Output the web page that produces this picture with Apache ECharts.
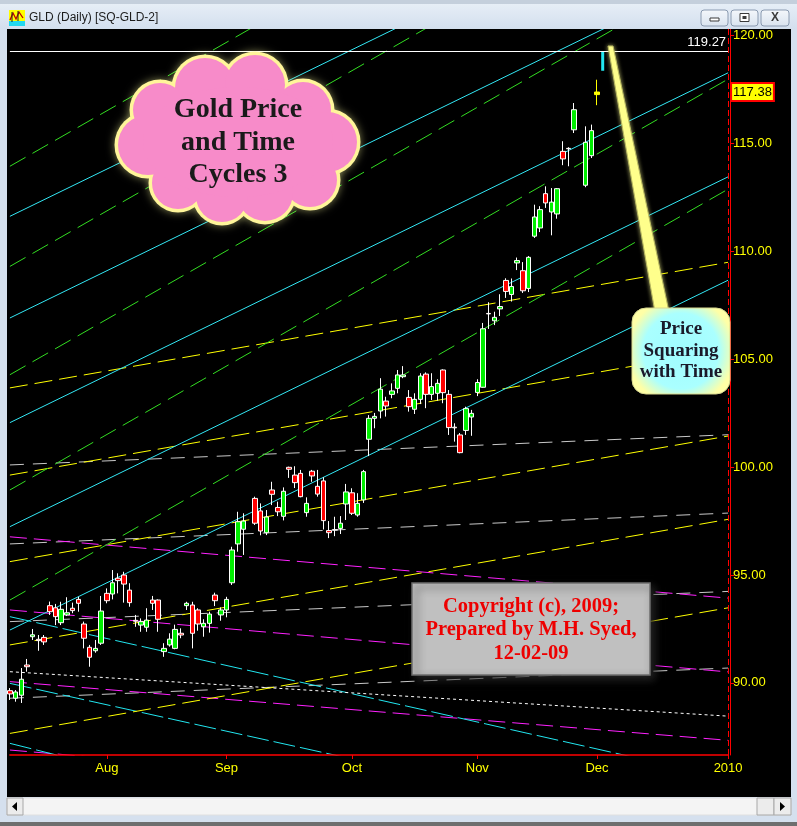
<!DOCTYPE html>
<html><head><meta charset="utf-8">
<script src="https://cdn.jsdelivr.net/npm/echarts@6/dist/echarts.min.js"></script>
<style>html,body{margin:0;padding:0;background:#d5e0ee;overflow:hidden}#chart{width:797px;height:826px}</style>
</head><body><div id="chart"></div>
<script>
// ---- calendar (weekday slots, as in the source chart) ----
const julDays=[9,10,13,14,15,16,17,20,21,22,23,24,27,28,29,30,31];
const augDays=[3,4,5,6,7,10,11,12,13,14,17,18,19,20,21,24,25,26,27,28,31];
const sepDays=[1,2,3,4,7,8,9,10,11,14,15,16,17,18,21,22,23,24,25,28,29,30];
const octDays=[1,2,5,6,7,8,9,12,13,14,15,16,19,20,21,22,23,26,27,28,29,30];
const novDays=[2,3,4,5,6,9,10,11,12,13,16,17,18,19,20,23,24,25,26,27,30];
const decDays=[1,2,3,4,7,8,9,10,11,14,15,16,17,18,21,22,23,24,25,28,29,30,31];
const janDays=[1];
const monthTickLabels=['Aug','Sep','Oct','Nov','Dec','2010'];
const yTickLabels=['90.00','95.00','100.00','105.00','110.00','115.00','120.00'];

// ---- GLD daily OHLC (null = market holiday) ----
const opens=[89.64,89.29,89.43,90.83,92.14,92.02,92.11,93.58,93.48,92.79,
93.15,93.46,93.87,92.73,91.65,91.49,91.84,94.15,94.12,94.85,
95.00,94.30,92.90,92.68,92.58,93.84,93.84,91.45,91.76,91.60,
92.30,93.58,93.61,93.38,92.60,92.76,94.07,93.15,93.38,94.64,
96.44,97.12,null,98.55,97.97,96.96,98.94,98.13,97.72,99.99,
99.63,99.71,97.89,99.81,99.11,99.36,97.06,97.10,97.16,98.29,
98.81,97.78,98.48,101.29,102.26,102.60,103.06,103.37,103.65,104.19,
103.23,102.68,103.14,104.31,103.37,103.42,104.50,103.37,101.85,101.49,
101.70,102.32,103.46,103.70,107.12,106.78,107.33,108.65,108.00,109.46,
109.10,108.28,110.70,111.08,112.67,111.82,111.73,114.63,114.77,115.63,
null,113.06,114.43];
const closes=[89.49,89.58,90.17,90.75,92.23,91.96,91.90,93.30,93.07,93.41,
93.25,93.35,93.69,92.07,91.19,91.60,93.33,93.81,94.64,94.74,
94.58,93.72,92.86,92.84,92.91,93.69,92.95,91.60,92.03,92.48,
92.22,93.69,92.30,92.73,92.76,93.19,93.81,93.38,93.87,96.16,
97.47,97.50,null,97.40,97.04,97.69,98.74,97.93,98.88,99.90,
99.28,98.63,98.32,99.59,98.75,97.52,96.96,97.08,97.40,98.85,
97.86,98.32,99.79,102.26,102.35,103.61,102.83,103.53,104.27,104.27,
102.80,103.14,104.22,103.37,103.73,103.88,103.45,101.83,101.82,100.67,
102.71,102.49,103.92,106.41,107.10,106.94,107.44,108.14,108.37,109.57,
108.17,109.72,111.59,111.93,112.24,112.28,112.90,114.28,114.75,116.56,
null,115.05,115.59];
const lows=[89.21,89.13,89.07,90.52,91.99,91.49,91.76,93.15,92.68,92.68,
93.10,93.23,93.30,91.60,90.75,91.40,91.76,93.69,93.87,94.15,
93.72,93.53,92.60,92.37,92.37,93.38,92.37,91.21,91.68,91.56,
92.07,93.38,91.60,92.42,92.14,92.33,93.56,92.88,93.04,94.54,
96.08,95.93,null,97.32,96.84,96.85,98.24,97.73,97.53,99.50,
99.03,98.60,97.70,99.32,98.63,97.11,96.71,96.80,96.90,97.55,
97.78,97.70,98.34,100.51,101.80,102.26,102.34,103.19,103.42,104.12,
102.57,102.46,102.92,102.73,103.11,103.08,102.96,101.49,101.18,100.64,
101.49,101.45,103.29,103.68,106.40,106.58,107.00,107.84,107.67,109.13,
108.07,108.11,110.62,110.89,112.01,110.74,111.51,113.99,113.94,115.48,
null,112.97,114.32];
const highs=[89.76,89.67,90.69,91.11,92.50,92.22,92.22,93.77,93.66,93.76,
93.97,93.72,93.99,92.84,91.76,91.99,94.03,94.38,95.23,95.08,
95.15,94.62,93.15,92.99,93.46,94.03,93.87,91.84,92.30,92.70,
92.53,93.76,93.76,93.46,92.95,93.30,94.18,93.50,93.99,96.31,
97.93,97.86,null,98.63,98.32,98.01,99.32,98.40,99.06,100.02,
100.04,99.87,98.60,99.87,99.87,99.53,97.50,97.70,97.73,99.22,
99.02,98.79,99.87,102.41,102.51,104.12,103.26,103.88,104.50,104.68,
103.57,103.42,104.35,104.39,104.35,104.07,104.53,103.57,102.03,101.58,
102.80,102.65,104.07,106.68,107.64,107.20,108.01,108.75,108.74,109.71,
109.50,109.78,112.16,112.09,113.01,112.93,112.93,115.10,114.82,116.87,
null,115.79,115.87];
const lastBarDate='2009-12-01';
const lastBar=[117.26,117.38,116.77,117.95]; // open, close, low, high
const lastPrice=117.38;
const highLine=119.27;
const markerDate='2009-12-02';
const markerRange=[119.27,118.37];

// ---- Gann-style lines: [price at first slot, price at last slot] ----
const cyanRise=[[111.62,127.83],[106.91,123.12],[102.06,118.27],[97.24,113.45],[92.45,108.66]];
const greenRise=[[113.94,132.98],[109.30,128.34],[104.28,123.32],[98.94,117.98],[93.84,112.88]];
const yellowRise=[[103.67,109.49],[99.63,105.45],[95.62,101.44],[91.76,97.58],[87.66,93.48]];
const grayFlat=[[100.10,101.50],[96.44,97.87],[92.84,94.24],[89.29,90.69]];
const magentaFall=[[96.77,93.93],[93.38,90.51],[90.06,87.34],[86.89,84.06]];
const cyanFall=[[93.07,85.57],[89.98,82.63],[87.20,78.88]];
const whiteDotted=[[90.52,88.46]];

// ---- build ----
function pad(n){return (n<10?'0':'')+n;}
const categories=[];
[['2009-07',julDays],['2009-08',augDays],['2009-09',sepDays],['2009-10',octDays],['2009-11',novDays],['2009-12',decDays],['2010-01',janDays]]
 .forEach(([m,days])=>days.forEach(d=>categories.push(m+'-'+pad(d))));
const monthStarts=[];
categories.forEach((d,i)=>{ if(i>0 && d.slice(0,7)!==categories[i-1].slice(0,7)) monthStarts.push(i); });
const firstCat=categories[0], lastCat=categories[categories.length-1];

const candleData=categories.map((c,i)=> (i<opens.length && opens[i]!=null) ? [opens[i],closes[i],lows[i],highs[i]] : '-');
const lastData=categories.map(c=> c===lastBarDate ? lastBar : '-');

const AXF="'Liberation Sans',Arial,sans-serif";
const SERIF="'Liberation Serif','Times New Roman',serif";

function lineSeries(pairs,color,dash){
  return pairs.map(p=>({type:'line',data:[[firstCat,p[0]],[lastCat,p[1]]],symbol:'none',silent:true,
    clip:true,z:1,animation:false,lineStyle:{color:color,width:1,type:dash}}));
}

const series=[].concat(
  lineSeries(grayFlat,'#c8c8c8',[14,9]),
  lineSeries(magentaFall,'#ff22ff',[17,7]),
  lineSeries(cyanFall,'#22e6f0',[22,5]),
  lineSeries(whiteDotted,'#ffffff',[3,3]),
  lineSeries(yellowRise,'#ffff00',[18,7]),
  lineSeries(greenRise,'#33dd22',[18,8]),
  lineSeries(cyanRise,'#33e8f5','solid'),
  [{
    type:'candlestick',data:candleData,barWidth:5,z:3,clip:true,
    itemStyle:{color:'#00ee00',color0:'#ff0000',borderColor:'#ffffff',borderColor0:'#ffffff',borderColorDoji:'#ffffff',borderWidth:1},
    markLine:{symbol:'none',silent:true,animation:false,data:[
      {yAxis:highLine,lineStyle:{color:'#ffffff',width:1.2,type:'solid'},
       label:{show:true,position:'insideEndTop',formatter:highLine.toFixed(2),color:'#ffffff',fontFamily:AXF,fontSize:13,distance:[2,2]}},
      {yAxis:lastPrice,lineStyle:{color:'rgba(0,0,0,0)',width:0},
       label:{show:true,position:'end',formatter:lastPrice.toFixed(2),color:'#000',backgroundColor:'#ffff00',borderColor:'#ff0000',borderWidth:2,
        padding:[2,1,1,1],fontFamily:AXF,fontSize:13,distance:4,opacity:1}},
      {xAxis:lastCat,lineStyle:{color:'#ff0000',width:1,type:[6,3]},label:{show:false}}
    ]}
  },{
    type:'candlestick',data:lastData,barWidth:5,z:4,
    itemStyle:{color:'#ffff00',color0:'#ffff00',borderColor:'#ffff00',borderColor0:'#ffff00',borderColorDoji:'#ffff00',borderWidth:1}
  },{
    type:'line',data:[[markerDate,markerRange[0]],[markerDate,markerRange[1]]],symbol:'none',silent:true,z:4,
    lineStyle:{color:'#22e6f0',width:3}
  }]
);

// ---- decorations ----
const cloudBumps=[[205,88,30],[255,85,30],[303,110,28],[327,142,30],[310,180,27],[265,193,28],[222,196,26],[178,183,26],[148,145,30],[160,110,27]];
const els=[];
// window chrome
els.push({type:'rect',shape:{x:0,y:0,width:797,height:29},style:{fill:{type:'linear',x:0,y:0,x2:0,y2:1,colorStops:[{offset:0,color:'#e9f0f8'},{offset:1,color:'#d3dfee'}]}},z:50});
els.push({type:'rect',shape:{x:0,y:0,width:797,height:4},style:{fill:'#c4cfdc'},z:50});
els.push({type:'rect',shape:{x:0,y:29,width:7,height:797},style:{fill:'#d5e0ee'},z:50});
els.push({type:'rect',shape:{x:791,y:29,width:6,height:797},style:{fill:'#d5e0ee'},z:50});
els.push({type:'rect',shape:{x:0,y:797,width:797,height:29},style:{fill:'#d5e0ee'},z:50});
els.push({type:'rect',shape:{x:7,y:798,width:784,height:17},style:{fill:'#f4f4f4',stroke:'#e0e0e0'},z:51});
els.push({type:'rect',shape:{x:7,y:798,width:16,height:17},style:{fill:'#ececec',stroke:'#a8a8a8'},z:52});
els.push({type:'polygon',shape:{points:[[17,802],[17,811],[12,806.5]]},style:{fill:'#000'},z:53});
els.push({type:'rect',shape:{x:757,y:798,width:17,height:17},style:{fill:'#ececec',stroke:'#a8a8a8'},z:52});
els.push({type:'rect',shape:{x:774,y:798,width:17,height:17},style:{fill:'#ececec',stroke:'#a8a8a8'},z:52});
els.push({type:'polygon',shape:{points:[[780,802],[780,811],[785,806.5]]},style:{fill:'#000'},z:53});
els.push({type:'rect',shape:{x:0,y:822,width:797,height:4},style:{fill:'#6e6e6e'},z:52});
// title icon + text
els.push({type:'rect',shape:{x:9,y:10,width:16,height:16},style:{fill:'#ffff00'},z:52});
els.push({type:'rect',shape:{x:9,y:21,width:16,height:5},style:{fill:'#22d8f0'},z:52});
els.push({type:'polyline',shape:{points:[[10,20],[13,13],[16,19],[19,12],[23,18]]},style:{stroke:'#c00000',lineWidth:1.3,fill:null},z:53});
els.push({type:'polyline',shape:{points:[[12,12],[12,22]]},style:{stroke:'#202020',lineWidth:1,fill:null},z:53});
els.push({type:'polyline',shape:{points:[[18,11],[18,21]]},style:{stroke:'#202020',lineWidth:1,fill:null},z:53});
els.push({type:'text',style:{text:'GLD (Daily) [SQ-GLD-2]',x:29,y:18,fill:'#1c1c1c',font:"12px 'Liberation Sans',Arial,sans-serif",textVerticalAlign:'middle',verticalAlign:'middle'},z:53});
// window buttons
[[701,27],[731,27],[761,28]].forEach(b=>els.push({type:'rect',shape:{x:b[0],y:10,width:b[1],height:16,r:3},style:{fill:{type:'linear',x:0,y:0,x2:0,y2:1,colorStops:[{offset:0,color:'#f4f7fb'},{offset:1,color:'#d9e3ef'}]},stroke:'#8a9ab0'},z:52}));
els.push({type:'rect',shape:{x:710,y:18,width:9,height:3},style:{fill:'#fff',stroke:'#3a3a3a'},z:53});
els.push({type:'rect',shape:{x:740,y:13.5,width:9,height:8},style:{fill:'#fff',stroke:'#3a3a3a',lineWidth:1},z:53});
els.push({type:'rect',shape:{x:742.5,y:16,width:4,height:3},style:{fill:'#3a3a3a'},z:54});
els.push({type:'text',style:{text:'X',x:775,y:18,fill:'#3a3a3a',font:"bold 12px 'Liberation Sans',sans-serif",textAlign:'center',align:'center',textVerticalAlign:'middle',verticalAlign:'middle'},z:53});

// cloud
const cloudChildren=[];
cloudBumps.forEach(c=>cloudChildren.push({type:'circle',shape:{cx:c[0],cy:c[1],r:c[2]+3.5},style:{fill:'#fff59a',shadowBlur:8,shadowColor:'rgba(255,255,160,0.5)'},z:100}));
cloudBumps.forEach(c=>cloudChildren.push({type:'circle',shape:{cx:c[0],cy:c[1],r:c[2]},style:{fill:'#f78bc9'},z:101}));
cloudChildren.push({type:'ellipse',shape:{cx:238,cy:142,rx:95,ry:55},style:{fill:'#f78bc9'},z:101});
[['Gold Price',110],['and Time',143],['Cycles 3',175]].forEach(t=>cloudChildren.push({type:'text',z:102,style:{text:t[0],x:238,y:t[1],fill:'#1a1a1a',
  font:"bold 28px "+SERIF,textAlign:'center',align:'center',textVerticalAlign:'middle',verticalAlign:'middle',shadowBlur:2,shadowColor:'rgba(0,0,0,0.6)',shadowOffsetX:1,shadowOffsetY:1}}));
els.push({type:'group',children:cloudChildren,z:100});

// callout pointer + box
els.push({type:'polygon',shape:{points:[[608,46],[613,46],[669,312],[655,312]]},style:{fill:'#ffff8c',stroke:'#b8b860',lineWidth:1,shadowBlur:4,shadowColor:'rgba(255,255,150,0.6)'},z:100});
els.push({type:'rect',shape:{x:632,y:308,width:98,height:86,r:14},style:{fill:{type:'radial',x:0.5,y:0.5,r:0.62,colorStops:[{offset:0,color:'#9ffcff'},{offset:0.7,color:'#aaffff'},{offset:1,color:'#ffffa6'}]},stroke:'#d8d890',lineWidth:1},z:101});
[['Price',329],['Squaring',351],['with Time',372]].forEach(t=>els.push({type:'text',z:102,style:{text:t[0],x:681,y:t[1],fill:'#1a1a2a',
  font:"bold 19px "+SERIF,textAlign:'center',align:'center',textVerticalAlign:'middle',verticalAlign:'middle'}}));

// copyright box
els.push({type:'rect',shape:{x:412,y:583,width:238,height:92},style:{fill:'#c0c0c0',stroke:'#6e6e6e',lineWidth:1.5,shadowBlur:8,shadowOffsetX:4,shadowOffsetY:4,shadowColor:'rgba(40,40,40,0.9)'},z:100});
[['Copyright (c), 2009;',607],['Prepared by M.H. Syed,',630],['12-02-09',654]].forEach(t=>els.push({type:'text',z:101,style:{text:t[0],x:531,y:t[1],fill:'#ee0000',
  font:"bold 20.5px "+SERIF,textAlign:'center',align:'center',textVerticalAlign:'middle',verticalAlign:'middle'}}));

const chart=echarts.init(document.getElementById('chart'),null,{renderer:'canvas'});
chart.setOption({
  animation:false,
  backgroundColor:'#000000',
  grid:{left:9.9,right:68.9,top:29,bottom:71,containLabel:false},
  xAxis:{type:'category',data:categories,boundaryGap:false,z:5,
    axisLine:{show:true,onZero:false,lineStyle:{color:'#ff0000',width:1.5,opacity:1}},
    axisTick:{show:true,length:4,lineStyle:{color:'#ff0000'},interval:(i)=>monthStarts.includes(i)},
    axisLabel:{show:true,color:'#ffff00',fontFamily:AXF,fontSize:13,margin:7,hideOverlap:false,
      interval:(i)=>monthStarts.includes(i),
      formatter:(v,i)=>{const k=monthStarts.indexOf(i);return k>=0?monthTickLabels[k]:'';}},
    splitLine:{show:false}},
  yAxis:{type:'value',position:'right',min:86.66,max:120.3,splitNumber:7,scale:true,offset:2,z:5,
    axisLine:{show:true,onZero:false,lineStyle:{color:'#ff0000',width:1}},
    axisTick:{show:true,inside:false,length:4,lineStyle:{color:'#ff0000'}},
    axisLabel:{show:true,color:'#ffff00',fontFamily:AXF,fontSize:13,margin:3,showMinLabel:false,showMaxLabel:false,
      formatter:(v)=>{const s=v.toFixed(2);return yTickLabels.includes(s)?s:'';}},
    splitLine:{show:false}},
  series:series,
  graphic:{elements:els}
});
</script></body></html>
